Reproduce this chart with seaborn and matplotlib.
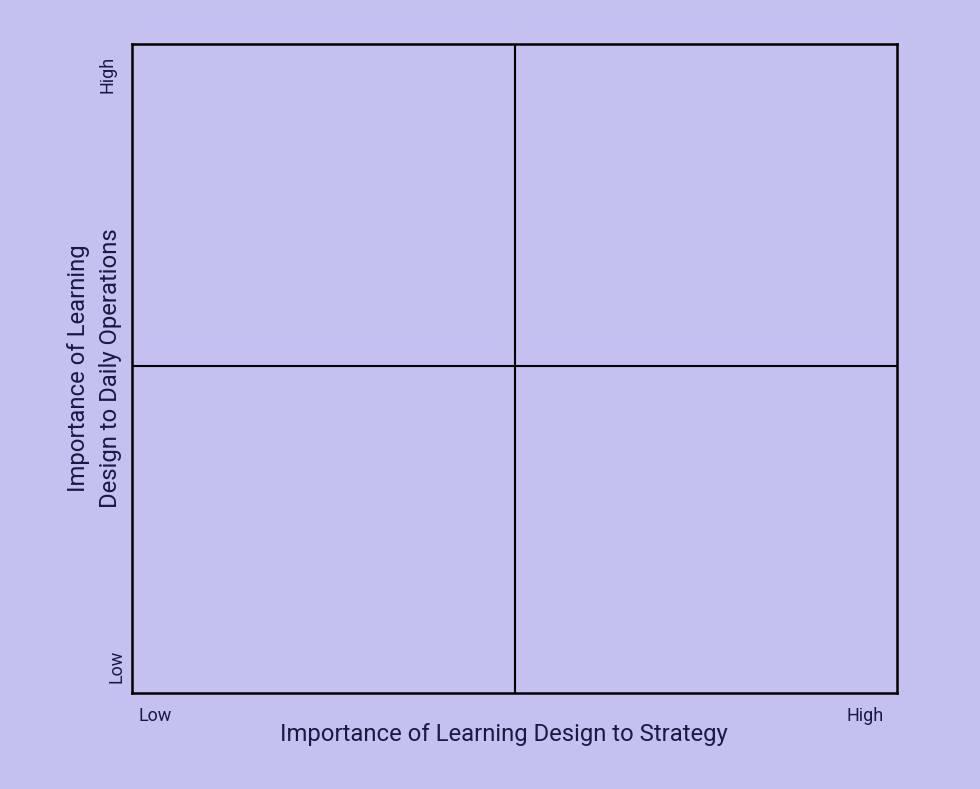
import numpy as np
import pandas as pd
import seaborn as sns
import matplotlib
matplotlib.use('Agg')
import matplotlib.pyplot as plt

# axis ends and labels
x_ticklabels = ['Low', 'High']
y_ticklabels = ['Low', 'High']
x_title = 'Importance of Learning Design to Strategy'
y_title = 'Importance of Learning\nDesign to Daily Operations'

# quadrant dividers (data coords)
vline_x = [0.5, 0.5]
vline_y = [0, 1]
hline_x = [0, 1]
hline_y = [0.504, 0.504]

bg = '#c4c0f0'
ink = '#1b1942'
W, H = 980, 789
L, R, T, B = 132, 897, 44, 693

sns.set_theme(style='white')
plt.rcParams['font.family'] = ['Roboto', 'Lato', 'DejaVu Sans']

fig = plt.figure(figsize=(W / 100, H / 100), dpi=100, facecolor=bg)
ax = fig.add_axes([L / W, 1 - B / H, (R - L) / W, (B - T) / H])
ax.set_facecolor(bg)

sns.lineplot(x=vline_x, y=vline_y, color='black', linewidth=1.5, ax=ax, sort=False, estimator=None)
sns.lineplot(x=hline_x, y=hline_y, color='black', linewidth=1.5, ax=ax, sort=False, estimator=None)

ax.set_xlim(0, 1)
ax.set_ylim(0, 1)
for s in ax.spines.values():
    s.set_color('black')
    s.set_linewidth(1.8)
ax.set_xticks([])
ax.set_yticks([])
ax.set_xlabel('')
ax.set_ylabel('')


def px(x, y):
    # pixel position -> axes fraction
    return (x - L) / (R - L), (B - y) / (B - T)


tick_kw = dict(fontsize=13, color=ink, fontweight='normal', transform=ax.transAxes, clip_on=False)
ax.text(*px(138, 721), x_ticklabels[0], ha='left', va='baseline', **tick_kw)
ax.text(*px(884, 721), x_ticklabels[1], ha='right', va='baseline', **tick_kw)
ax.text(*px(121, 683), y_ticklabels[0], ha='left', va='baseline', rotation=90,
        rotation_mode='anchor', **tick_kw)
ax.text(*px(112, 56), y_ticklabels[1], ha='right', va='baseline', rotation=90,
        rotation_mode='anchor', **tick_kw)

title_kw = dict(fontsize=17.2, color=ink, fontweight='normal', transform=ax.transAxes, clip_on=False)
ax.text(*px(504, 741), x_title, ha='center', va='baseline', **title_kw)
ax.text(*px(108, 368), y_title, ha='center', va='baseline', rotation=90,
        rotation_mode='anchor', linespacing=1.5, **title_kw)

fig.savefig('out.png', dpi=100, facecolor=bg)
